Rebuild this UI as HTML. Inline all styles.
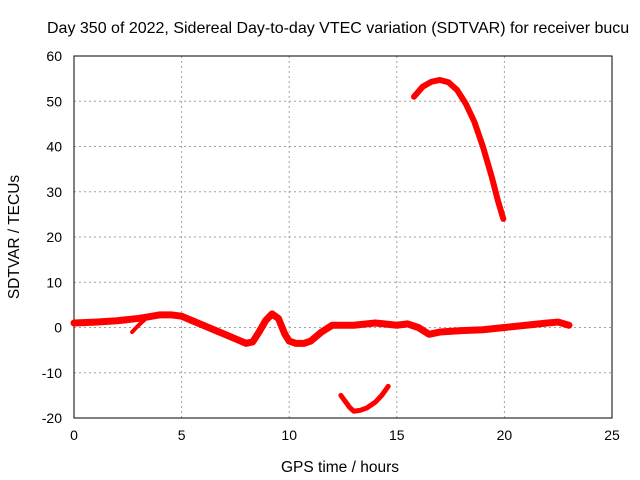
<!DOCTYPE html>
<html><head><meta charset="utf-8"><style>
body{margin:0;background:#fff}
svg{display:block;font-family:"Liberation Sans",sans-serif}
</style></head><body>
<svg id="chart" width="640" height="480">
<text x="47" y="33" font-size="16">Day 350 of 2022, Sidereal Day-to-day VTEC variation (SDTVAR) for receiver bucu</text>
<g id="grid"></g>
<g id="axes"></g>
<g id="series"></g>
<text x="340" y="472" font-size="15.5" text-anchor="middle">GPS time / hours</text>
<text x="19" y="237" font-size="15.5" text-anchor="middle" transform="rotate(-90 19 237)">SDTVAR / TECUs</text>
</svg>
<script>
const xTicks=[0,5,10,15,20,25];
const yTicks=[-20,-10,0,10,20,30,40,50,60];
const mainX=[0,1,2,3,3.5,4,4.5,5,5.5,6,6.5,7,7.5,8,8.3,8.6,8.9,9.2,9.5,9.8,10,10.3,10.7,11,11.5,12,12.5,13,14,15,15.5,16,16.5,17,18,19,20,21,22,22.5,23];
const mainY=[1,1.2,1.5,2,2.4,2.8,2.8,2.5,1.5,0.5,-0.5,-1.5,-2.5,-3.5,-3.2,-1,1.5,3,2,-1.5,-3,-3.5,-3.5,-3,-1,0.5,0.5,0.5,1,0.5,0.8,0,-1.5,-1,-0.7,-0.5,0,0.5,1,1.2,0.5];
const branchX=[2.7,3.0,3.3];
const branchY=[-1,0.5,1.8];
const lowX=[12.4,12.6,12.8,13,13.3,13.6,14,14.3,14.6];
const lowY=[-15,-16.3,-17.6,-18.5,-18.3,-17.8,-16.5,-15,-13];
const highX=[15.8,16.2,16.6,17.0,17.4,17.8,18.2,18.6,19.0,19.4,19.7,19.95];
const highY=[51,53.2,54.3,54.7,54.2,52.5,49.5,45.5,40,33.5,28,24];
const L=74,R=612,T=56,B=418,xmin=0,xmax=25,ymin=-20,ymax=60;
const sx=v=>L+(v-xmin)/(xmax-xmin)*(R-L);
const sy=v=>B-(v-ymin)/(ymax-ymin)*(B-T);
const NS='http://www.w3.org/2000/svg';
function mk(tag,attrs,parent){const e=document.createElementNS(NS,tag);for(const k in attrs)e.setAttribute(k,attrs[k]);parent.appendChild(e);return e;}
const grid=document.getElementById('grid'),axes=document.getElementById('axes'),series=document.getElementById('series');
xTicks.forEach(t=>{
  if(t>xmin&&t<xmax){const g=mk('line',{x1:sx(t),x2:sx(t),y1:T,y2:B,stroke:'#a0a0a0','stroke-dasharray':'2,3'},grid);
  
  }
  const tl=mk('text',{x:sx(t),y:B+22,'font-size':14,'text-anchor':'middle'},axes);tl.textContent=t;
  
  
});
yTicks.forEach(t=>{
  if(t>ymin&&t<ymax){const g=mk('line',{x1:L,x2:R,y1:sy(t),y2:sy(t),stroke:'#a0a0a0','stroke-dasharray':'2,3'},grid);
  
  }
  const tl=mk('text',{x:L-12,y:sy(t)+5,'font-size':14,'text-anchor':'end'},axes);tl.textContent=t;
  
  
});
const box=mk('rect',{x:L,y:T,width:R-L,height:B-T,fill:'none',stroke:'#000','stroke-width':1},axes);


function line(xs,ys,w,name){
  const p=mk('polyline',{points:xs.map((x,i)=>sx(x)+','+sy(ys[i])).join(' '),fill:'none',stroke:'#f00','stroke-width':w,'stroke-linejoin':'round','stroke-linecap':'round'},series);
  
  
}
line(mainX,mainY,7,'main-band');
line(branchX,branchY,4,'branch-trace');
line(lowX,lowY,5,'low-arc');
line(highX,highY,6,'high-arc');
</script>
</body></html>
